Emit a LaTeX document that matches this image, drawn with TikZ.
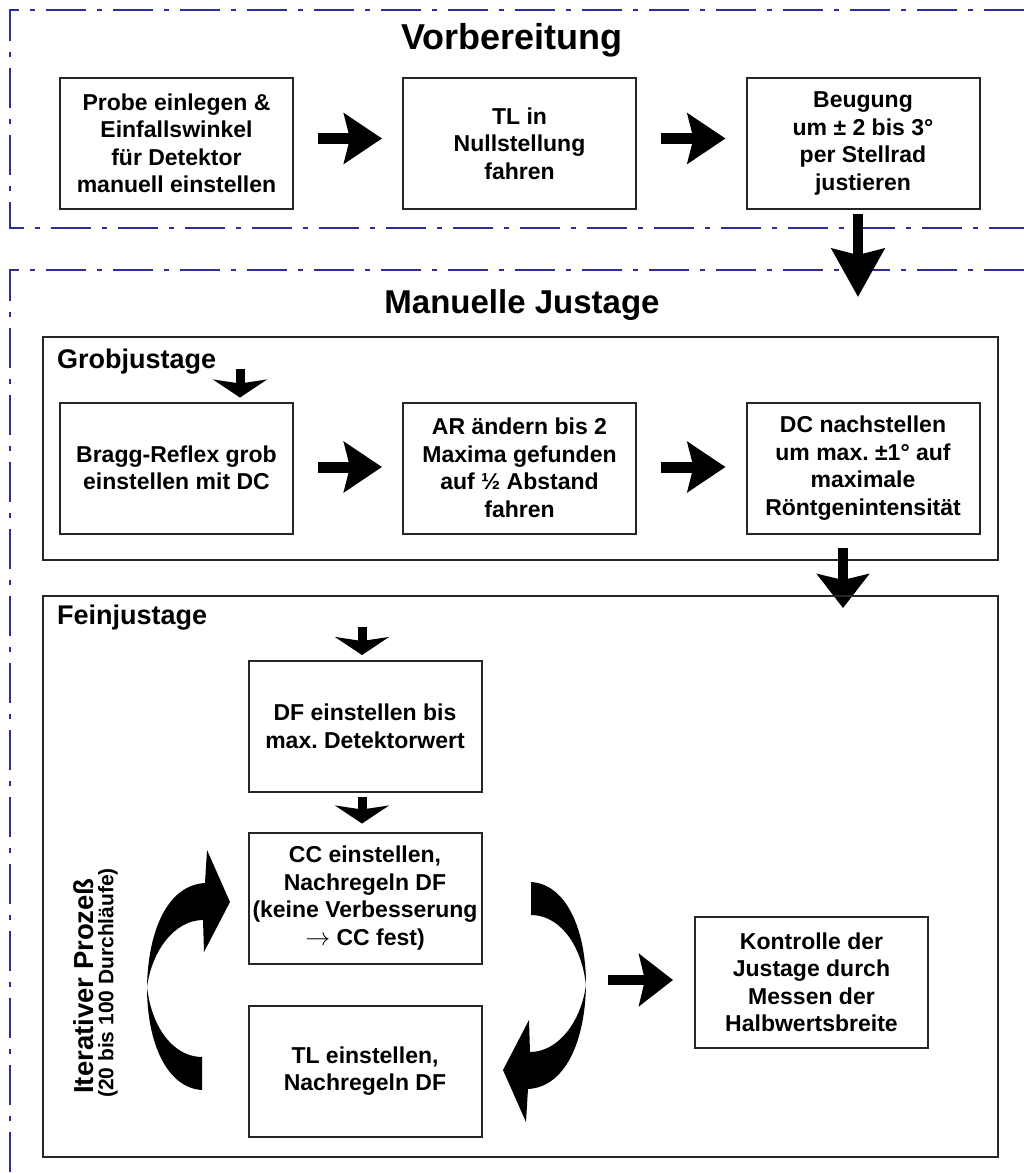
\documentclass[tikz,border=0pt]{standalone}
\usepackage{fontspec}
\setmainfont{Liberation Sans}
\usetikzlibrary{arrows.meta}
\definecolor{framecol}{RGB}{45,45,160}
\frenchspacing
\begin{document}
\begin{tikzpicture}[x=1pt,y=-1pt,
  dashframe/.style={draw=framecol, line width=1.6pt, dash pattern=on 40pt off 11pt on 5pt off 11pt},
  procbox/.style={draw=black!85, line width=2pt, minimum width=233pt, minimum height=131pt, align=center, font=\fontsize{23}{27.5}\selectfont\bfseries, inner sep=0pt},
  panel/.style={draw=black!85, line width=2pt},
  bigarrow/.style={line width=11pt, -{Stealth[length=38pt,width=50pt,inset=6pt]}},
  downarrow/.style={line width=10pt, -{Stealth[length=48pt,width=52pt,inset=6pt]}},
  midarrow/.style={line width=10pt, -{Stealth[length=34pt,width=52pt,inset=6pt]}},
  smallarrow/.style={line width=9pt, -{Stealth[length=18pt,width=54pt,inset=4pt]}},
  titletext/.style={font=\fontsize{33}{38}\selectfont\bfseries},
  sectext/.style={font=\fontsize{27}{30}\selectfont\bfseries, anchor=west, inner sep=0pt},
  curvearrow/.pic={
    \fill (202,1090) .. controls (168,1088) and (147,1045) .. (147,987)
      .. controls (148,930) and (168,885) .. (205,883)
      -- (207,850) -- (230,902) -- (204,952) -- (203,920)
      .. controls (175,920) and (152,950) .. (147,987)
      .. controls (152,1030) and (175,1057) .. (202,1057) -- cycle;
  },
]
\useasboundingbox (0,0) rectangle (1024,1173);

% dash-dot frames
\draw[dashframe] (1024,10) -- (10,10) -- (10,228) -- (1024,228);
\draw[dashframe] (1024,270) -- (10,270) -- (10,1173);

\node[titletext, font=\fontsize{36}{40}\selectfont\bfseries] (t1) at (512,40) {Vorbereitung};
\node[titletext] (t2) at (522,305) {Manuelle Justage};

% Vorbereitung
\node[procbox] (b1) at (176.5,143.5) {Probe einlegen \&\\Einfallswinkel\\für Detektor\\manuell einstellen};
\node[procbox] (b2) at (519.5,143.5) {TL in\\Nullstellung\\fahren};
\node[procbox] (b3) at (863,143.5) {Beugung\\um ± 2 bis 3°\\per Stellrad\\justieren};
\draw[bigarrow, shorten <=24pt, shorten >=20pt] ([yshift=5pt]b1.east) -- ([yshift=5pt]b2.west);
\draw[bigarrow, shorten <=24pt, shorten >=20pt] ([yshift=5pt]b2.east) -- ([yshift=5pt]b3.west);
\coordinate (mjin) at (858,297);
\draw[downarrow, shorten <=4pt] ([xshift=-5pt]b3.south) -- (mjin);

% Grobjustage
\draw[panel] (43,337) rectangle (998,560);
\node[sectext] (grob) at (57,362) {Grobjustage};
\node[procbox] (bragg) at (176.5,468) {Bragg-Reflex grob\\einstellen mit DC};
\node[procbox] (ar) at (519.5,468) {AR ändern bis 2\\Maxima gefunden\\auf ½ Abstand\\fahren};
\node[procbox] (dc) at (863,468) {DC nachstellen\\um max. ±1° auf\\maximale\\Röntgenintensität};
\coordinate (g0) at (240,369);
\draw[smallarrow, shorten >=4pt] (g0) -- ([xshift=63.5pt]bragg.north);
\draw[bigarrow, shorten <=24pt, shorten >=20pt] ([yshift=1pt]bragg.east) -- ([yshift=1pt]ar.west);
\draw[bigarrow, shorten <=24pt, shorten >=20pt] ([yshift=1pt]ar.east) -- ([yshift=1pt]dc.west);
\coordinate (feinin) at (843,608);
\draw[midarrow, shorten <=13pt] ([xshift=-20pt]dc.south) -- (feinin);

% Feinjustage
\draw[panel] (43,596) rectangle (998,1157);
\node[sectext] (fein) at (57,618) {Feinjustage};
\node[procbox] (df) at (365,726.5) {DF einstellen bis\\max. Detektorwert};
\node[procbox] (cc) at (365,898) {CC einstellen,\\Nachregeln DF\\(keine Verbesserung\\$\rightarrow$ CC fest)};
\node[procbox] (tl) at (365,1071) {TL einstellen,\\Nachregeln DF};
\node[procbox] (ko) at (811.5,982.5) {Kontrolle der\\Justage durch\\Messen der\\Halbwertsbreite};
\coordinate (f0) at (362,627);
\draw[smallarrow, shorten >=5pt] (f0) -- ([xshift=-3pt]df.north);
\draw[smallarrow, shorten <=4pt, shorten >=8pt] ([xshift=-3pt]df.south) -- ([xshift=-3pt]cc.north);
\coordinate (k0) at (608,980);
\draw[midarrow, shorten >=21pt] (k0) -- ([yshift=2.5pt]ko.west);

% curved arrows (iteration loop)
\pic {curvearrow};
\pic[rotate around={180:(366.5,986)}] {curvearrow};

\node[rotate=90, font=\fontsize{27.5}{30}\selectfont\bfseries] (it) at (84,986) {Iterativer Prozeß};
\node[rotate=90, font=\fontsize{21}{24}\selectfont\bfseries] (itn) at (108,983) {(20 bis 100 Durchläufe)};
\end{tikzpicture}
\end{document}
